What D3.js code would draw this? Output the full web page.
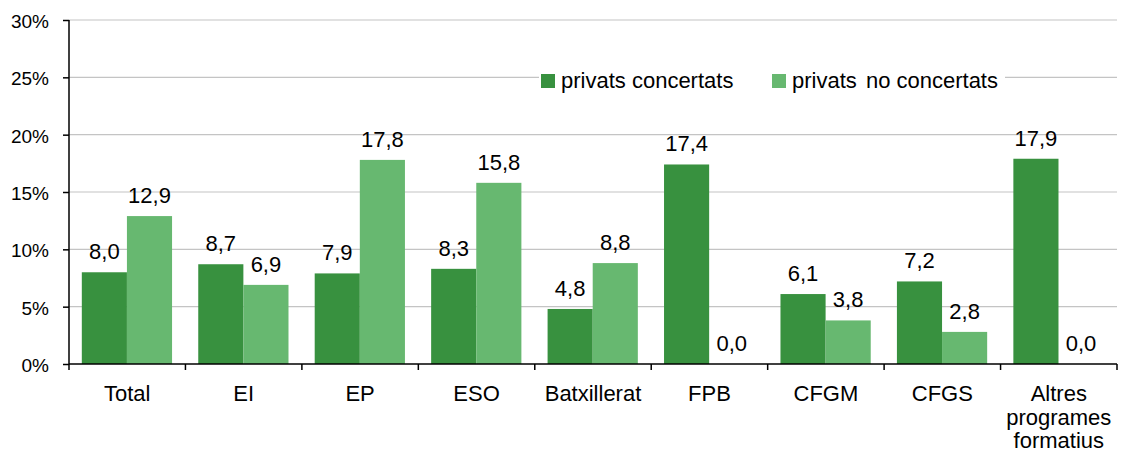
<!DOCTYPE html>
<html>
<head>
<meta charset="utf-8">
<script src="https://cdn.jsdelivr.net/npm/d3@7"></script>
<style>
  html, body { margin: 0; padding: 0; background: #fff; }
  svg { display: block; font-family: "Liberation Sans", Arial, sans-serif; }
</style>
</head>
<body>
<svg id="chart" width="1121" height="456"></svg>
<script>
const categories = ["Total", "EI", "EP", "ESO", "Batxillerat", "FPB", "CFGM", "CFGS", "Altres programes formatius"];
const categoryLines = [["Total"], ["EI"], ["EP"], ["ESO"], ["Batxillerat"], ["FPB"], ["CFGM"], ["CFGS"], ["Altres", "programes", "formatius"]];
const seriesNames = ["privats concertats", "privats no concertats"];
const concertats = [8.0, 8.7, 7.9, 8.3, 4.8, 17.4, 6.1, 7.2, 17.9];
const noConcertats = [12.9, 6.9, 17.8, 15.8, 8.8, 0.0, 3.8, 2.8, 0.0];
const yTicks = [0, 5, 10, 15, 20, 25, 30];
const colors = ["#38913F", "#67B870"];

const svg = d3.select("#chart");
const margin = { left: 69, top: 20 };
const plotW = 1117 - margin.left;
const plotH = 364 - margin.top;

const g = svg.append("g").attr("transform", `translate(${margin.left},${margin.top})`);

const x0 = d3.scaleBand().domain(categories).range([0, plotW]).padding(0);
const bw = x0.bandwidth();
const x1 = d3.scaleBand().domain(seriesNames).range([bw * 0.11, bw * 0.885]).padding(0);
const y = d3.scaleLinear().domain([0, 30]).range([plotH, 0]);

// gridlines
g.append("g").selectAll("line").data(yTicks.filter(d => d > 0)).join("line")
  .attr("x1", 0).attr("x2", plotW)
  .attr("y1", d => y(d)).attr("y2", d => y(d))
  .attr("stroke", "#c4c4c4").attr("stroke-width", 1.2);

// legend background + legend
const legend = g.append("g").attr("transform", `translate(${541 - margin.left},${74 - margin.top})`);
legend.append("rect").attr("x", -2).attr("y", -8).attr("width", 466).attr("height", 30).attr("fill", "#fff");
const legendX = [0, 231];
seriesNames.forEach((s, i) => {
  const it = legend.append("g").attr("transform", `translate(${legendX[i]},0)`);
  it.append("rect").attr("width", 14).attr("height", 14).attr("fill", colors[i]);
  const words = s.split(" ");
  const t = it.append("text").attr("x", 20).attr("y", 14).attr("font-size", 22).attr("fill", "#000");
  if (i === 1) {
    t.append("tspan").text(words[0]);
    t.append("tspan").attr("dx", 3).text(" " + words.slice(1).join(" "));
  } else {
    t.text(s);
  }
});

// bars
const data = categories.map((c, i) => ({ cat: c, vals: [concertats[i], noConcertats[i]] }));
const groups = g.append("g").selectAll("g").data(data).join("g")
  .attr("transform", d => `translate(${x0(d.cat)},0)`);
groups.selectAll("rect").data(d => d.vals.map((v, j) => ({ v, s: seriesNames[j], j }))).join("rect")
  .attr("x", d => x1(d.s)).attr("width", x1.bandwidth())
  .attr("y", d => y(d.v)).attr("height", d => y(0) - y(d.v))
  .attr("fill", d => colors[d.j]);
groups.selectAll("text").data(d => d.vals.map((v, j) => ({ v, s: seriesNames[j], j }))).join("text")
  .attr("x", d => x1(d.s) + x1.bandwidth() / 2)
  .attr("y", d => y(d.v) - 13)
  .attr("text-anchor", "middle").attr("font-size", 22).attr("fill", "#000")
  .text(d => d3.format(".1f")(d.v).replace(".", ","));

// y axis
const yAxis = d3.axisLeft(y).tickValues(yTicks).tickSize(6).tickPadding(14).tickFormat(d => d + "%");
const ya = g.append("g").call(yAxis);
ya.select(".domain").attr("stroke", "#000").attr("stroke-width", 1.5).attr("d", `M0,${plotH}V0`);
ya.selectAll(".tick line").attr("stroke", "#000").attr("stroke-width", 1.5);
ya.selectAll(".tick text").attr("font-size", 19).attr("font-family", "Liberation Sans, Arial, sans-serif").attr("fill", "#000").attr("dy", "0.4em");

// x axis
const xa = g.append("g").attr("transform", `translate(0,${plotH})`);
xa.append("line").attr("x1", 0).attr("x2", plotW).attr("stroke", "#000").attr("stroke-width", 1.5);
const bounds = categories.map(c => x0(c)).concat([x0.range()[1]]);
xa.selectAll("line.tk").data(bounds).join("line").attr("class", "tk")
  .attr("x1", d => d).attr("x2", d => d).attr("y1", 0).attr("y2", 6)
  .attr("stroke", "#000").attr("stroke-width", 1.5);
const lab = xa.selectAll("text.cat").data(categories).join("text").attr("class", "cat")
  .attr("text-anchor", "middle").attr("font-size", 22).attr("fill", "#000")
  .attr("transform", c => `translate(${x0(c) + bw / 2},37)`);
lab.each(function(c, i) {
  const t = d3.select(this);
  categoryLines[i].forEach((ln, k) => {
    t.append("tspan").attr("x", 0).attr("y", k * 23.5).text(ln);
  });
});
</script>
</body>
</html>
